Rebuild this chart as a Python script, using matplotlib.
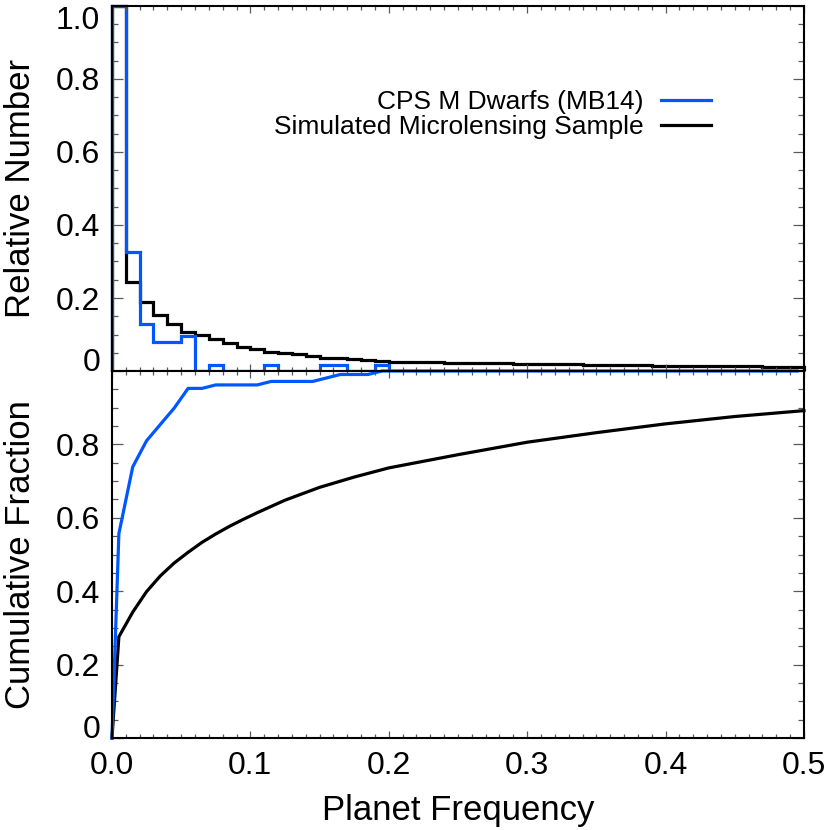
import numpy as np
import matplotlib
matplotlib.use("Agg")
import matplotlib.pyplot as plt

plt.rcParams['font.family'] = ['Liberation Sans', 'DejaVu Sans']

# histogram bins (width 0.01) from 0 to 0.5
bin_edges = np.round(np.arange(0, 0.501, 0.01), 3)

# CPS M Dwarfs (MB14), relative number per bin
cps_hist = [1.0, 0.326, 0.128, 0.08, 0.08, 0.096, 0, 0.017, 0, 0,
            0, 0.017, 0, 0, 0, 0.017, 0.017, 0, 0, 0.017] + [0] * 30

# simulated microlensing sample, relative number per bin
sim_hist = [1.0, 0.244, 0.188, 0.153, 0.130, 0.107, 0.100, 0.087, 0.076, 0.065,
            0.059, 0.053, 0.048, 0.046, 0.041, 0.037, 0.035, 0.032, 0.030, 0.028,
            0.026, 0.025, 0.025, 0.024, 0.023, 0.023, 0.022, 0.021, 0.021, 0.020,
            0.019, 0.019, 0.018, 0.018, 0.017, 0.017, 0.016, 0.016, 0.016, 0.015,
            0.015, 0.014, 0.014, 0.014, 0.013, 0.013, 0.013, 0.012, 0.012, 0.012]

# cumulative fraction of the simulated sample
sim_cum_x = [0, 0.005, 0.015, 0.025, 0.035, 0.045, 0.055, 0.065, 0.075, 0.085,
             0.095, 0.105, 0.125, 0.15, 0.175, 0.2, 0.25, 0.3, 0.35, 0.4, 0.45, 0.5]
sim_cum_y = [0, 0.276, 0.343, 0.399, 0.442, 0.477, 0.506, 0.533, 0.556, 0.577,
             0.596, 0.614, 0.648, 0.683, 0.711, 0.736, 0.772, 0.806, 0.832, 0.856, 0.876, 0.892]

labels = ["CPS M Dwarfs (MB14)", "Simulated Microlensing Sample"]
blue = '#0057ff'

# cumulative fraction of the CPS sample, evaluated at bin centres
centers = (bin_edges[:-1] + bin_edges[1:]) / 2
cps_cum_x = np.concatenate([[0], centers])
cps_cum_y = np.concatenate([[0], np.cumsum(cps_hist) / np.sum(cps_hist)])

fig = plt.figure(figsize=(8.3, 8.3), dpi=100)
ax1 = fig.add_axes([0.1349, 0.5530, 0.8337, 0.4398])
ax2 = fig.add_axes([0.1349, 0.1108, 0.8337, 0.4422], sharex=ax1)

# top: histograms
ax1.stairs(sim_hist, bin_edges, color='black', lw=2.3, baseline=0,
           clip_on=False, label=labels[1])
ax1.stairs(cps_hist, bin_edges, color=blue, lw=2.3, baseline=0,
           clip_on=False, label=labels[0])

# bottom: cumulative
ax2.plot(sim_cum_x, sim_cum_y, color='black', lw=2.3, clip_on=False)
ax2.plot(cps_cum_x, cps_cum_y, color=blue, lw=2.3, clip_on=False)

ax1.set_xlim(0, 0.5)
ax1.set_ylim(0, 1.0)
ax2.set_ylim(0, 1.0)

h, l = ax1.get_legend_handles_labels()
ax1.legend(h[::-1], l[::-1], loc='upper right', bbox_to_anchor=(0.866, 0.77),
           frameon=False, markerfirst=False, fontsize=19, handlelength=1.9,
           handletextpad=0.68, labelspacing=0.04, borderaxespad=0, borderpad=0)

for ax in (ax1, ax2):
    for s in ax.spines.values():
        s.set_linewidth(1.5)
    ax.tick_params(which='both', direction='in', top=True, right=True,
                   color='0.35', width=0.9, labelsize=23)
    ax.tick_params(axis='y', which='major', length=8, pad=8.5)
    ax.tick_params(axis='y', which='minor', length=4.5)
    ax.tick_params(axis='x', which='major', length=5, pad=9)
    ax.tick_params(axis='x', which='minor', length=2.6)
    ax.set_xticks(np.arange(0, 0.51, 0.1))
    ax.set_xticks(np.arange(0, 0.501, 0.01), minor=True)
    ax.set_yticks(np.arange(0, 1.001, 0.05), minor=True)

ax1.tick_params(axis='x', labelbottom=False)
ax2.set_xticklabels(['0.0', '0.1', '0.2', '0.3', '0.4', '0.5'])

ax1.set_yticks([0, 0.2, 0.4, 0.6, 0.8, 1.0])
ax1.set_yticklabels(['0', '0.2', '0.4', '0.6', '0.8', '1.0'])
ax2.set_yticks([0, 0.2, 0.4, 0.6, 0.8, 1.0])
ax2.set_yticklabels(['0', '0.2', '0.4', '0.6', '0.8', ''])

# zero labels sit on the axis line, 1.0 hangs from the top
ax1.yaxis.get_major_ticks()[0].label1.set_va('baseline')
ax1.yaxis.get_major_ticks()[-1].label1.set_va('top')
ax2.yaxis.get_major_ticks()[0].label1.set_va('baseline')

ax1.set_ylabel("Relative Number", fontsize=25)
ax2.set_ylabel("Cumulative Fraction", fontsize=25)
ax2.set_xlabel("Planet Frequency", fontsize=25)
ax1.yaxis.set_label_coords(-0.108, 0.5)
ax2.yaxis.set_label_coords(-0.108, 0.5)
ax2.xaxis.label.set_va('baseline')
ax2.xaxis.set_label_coords(0.5, -0.2234)

fig.savefig("out.png", dpi=100)
